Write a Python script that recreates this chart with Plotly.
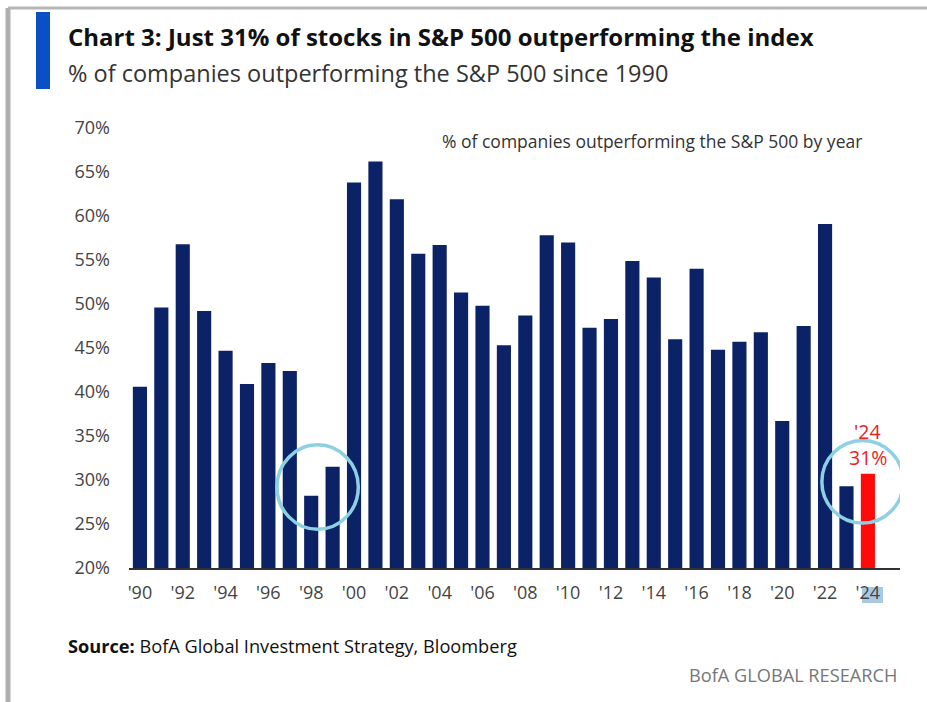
import plotly.graph_objects as go

years = list(range(1990, 2025))
pct_outperforming = [40.6, 49.6, 56.8, 49.2, 44.7, 40.9, 43.3, 42.4, 28.2, 31.5,
                     63.8, 66.2, 61.9, 55.7, 56.7, 51.3, 49.8, 45.3, 48.7, 57.8,
                     57.0, 47.3, 48.3, 54.9, 53.0, 46.0, 54.0, 44.8, 45.7, 46.8,
                     36.7, 47.5, 59.1, 29.3, 30.7]
tick_years = list(range(1990, 2025, 2))
tick_labels = ["'" + str(y)[2:] for y in tick_years]
y_ticks = [20, 25, 30, 35, 40, 45, 50, 55, 60, 65, 70]
y_tick_labels = [f"{v}%" for v in y_ticks]

NAVY = "#0b2266"
RED = "#ff0a0a"
CIRCLE = "#8dd0e3"

W, H = 927, 702
L, R, T, B = 129, 27, 128, 134
PW, PH = W - L - R, H - T - B


def px(x):
    return (x - L) / PW


def py(y):
    return (H - B - y) / PH


colors = [NAVY] * (len(years) - 1) + [RED]

fig = go.Figure(go.Bar(x=years, y=pct_outperforming, marker_color=colors,
                       marker_line_width=0, width=0.66, hoverinfo="x+y"))

fig.update_layout(
    width=W, height=H, margin=dict(l=L, r=R, t=T, b=B),
    paper_bgcolor="white", plot_bgcolor="white", showlegend=False,
    font=dict(family="Open Sans", color="#333333"),
    xaxis=dict(range=[1989.49, 2025.5], tickvals=tick_years, ticktext=tick_labels,
               showgrid=False, zeroline=False, showline=True, linecolor="#333333",
               linewidth=2, ticks="", ticklabelstandoff=7,
               tickfont=dict(size=18, color="#444444")),
    yaxis=dict(range=[20, 70], tickvals=y_ticks, ticktext=y_tick_labels, showgrid=False,
               zeroline=False, showline=False, ticks="", ticklabelstandoff=18,
               tickfont=dict(size=18, color="#444444")),
)

shapes = [
    # frame
    dict(type="line", xref="paper", yref="paper", x0=px(8), x1=px(927), y0=py(8), y1=py(8),
         line=dict(color="#b5b5b5", width=3)),
    dict(type="line", xref="paper", yref="paper", x0=px(8), x1=px(8), y0=py(8), y1=py(702),
         line=dict(color="#b0b0b0", width=5)),
    # blue title bar
    dict(type="rect", xref="paper", yref="paper", x0=px(36), x1=px(50), y0=py(12), y1=py(89),
         fillcolor="#0b4fc4", line_width=0),
    # circles
    dict(type="circle", xref="x", yref="y", x0=1996.4, x1=2000.2, y0=24.4, y1=34.0,
         line=dict(color=CIRCLE, width=3.5)),
    dict(type="circle", xref="x", yref="y", x0=2021.85, x1=2025.65, y0=25.1, y1=34.5,
         line=dict(color=CIRCLE, width=3.5)),
    # highlight behind '24 tick label
    dict(type="rect", xref="paper", yref="paper", x0=px(862), x1=px(883), y0=py(603), y1=py(587),
         fillcolor="#a9c9e2", line_width=0, layer="below"),
]
fig.update_layout(shapes=shapes)

annotations = [
    dict(text="<b>Chart 3: Just 31% of stocks in S&P 500 outperforming the index</b>",
         x=px(66), y=py(36), xanchor="left", yanchor="middle",
         font=dict(size=24, color="#111111", family="Open Sans")),
    dict(text="% of companies outperforming the S&P 500 since 1990",
         x=px(66), y=py(73), xanchor="left", yanchor="middle",
         font=dict(size=23.5, color="#333333", family="Open Sans")),
    dict(text="% of companies outperforming the S&P 500 by year",
         x=px(864), y=py(141), xanchor="right", yanchor="middle",
         font=dict(size=17.5, color="#333333", family="Open Sans")),
    dict(text="'24", x=2024, y=py(431), xref="x", yref="paper", xanchor="center",
         yanchor="middle", font=dict(size=19.5, color="#e8231f")),
    dict(text="31%", x=2024, y=py(457), xref="x", yref="paper", xanchor="center",
         yanchor="middle", font=dict(size=19.5, color="#e8231f")),
    dict(text="<b>Source:</b> BofA Global Investment Strategy, Bloomberg",
         x=px(66), y=py(646), xanchor="left", yanchor="middle",
         font=dict(size=18.2, color="#111111", family="Open Sans")),
    dict(text="BofA GLOBAL RESEARCH",
         x=px(899), y=py(675), xanchor="right", yanchor="middle",
         font=dict(size=18.2, color="#777777", family="Open Sans")),
]
for a in annotations:
    a.setdefault("xref", "paper")
    a.setdefault("yref", "paper")
    a["showarrow"] = False
fig.update_layout(annotations=annotations)

fig.write_html("out.html")
